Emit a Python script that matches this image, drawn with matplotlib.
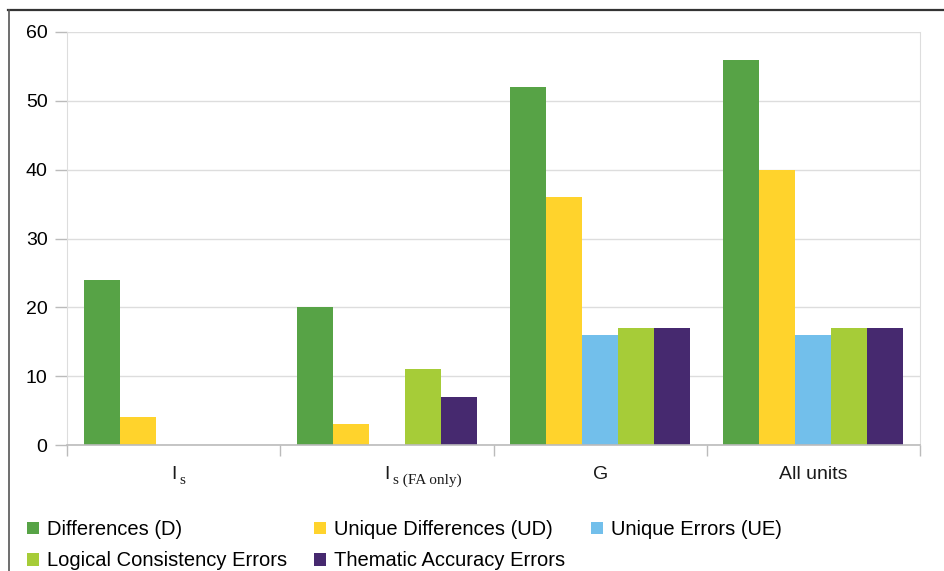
import matplotlib
matplotlib.use('Agg')
import matplotlib.pyplot as plt
from matplotlib.lines import Line2D
from matplotlib.patches import Patch
import numpy as np

plt.rcParams['font.family'] = ['Liberation Sans', 'DejaVu Sans']

categories = ['I', 'I', 'G', 'All units']
subscripts = ['s', 's (FA only)', '', '']
series = ['Differences (D)', 'Unique Differences (UD)', 'Unique Errors (UE)',
          'Logical Consistency Errors', 'Thematic Accuracy Errors']
differences = [24, 20, 52, 56]
unique_differences = [4, 3, 36, 40]
unique_errors = [0, 0, 16, 16]
logical_errors = [0, 11, 17, 17]
thematic_errors = [0, 7, 17, 17]
colors = ['#57a346', '#ffd32c', '#72bfeb', '#a6cc38', '#46296f']

values = [differences, unique_differences, unique_errors, logical_errors, thematic_errors]

fig = plt.figure(figsize=(9.45, 5.71), dpi=100)
ax = fig.add_axes([67 / 945, 1 - 445 / 571, (920 - 67) / 945, (445 - 32) / 571])

x = np.arange(len(categories))
width = 0.169
for i, (vals, color) in enumerate(zip(values, colors)):
    ax.bar(x + (i - 2) * width, vals, width, color=color, linewidth=0, zorder=3)

ax.set_xlim(-0.5, len(categories) - 0.5)
ax.set_ylim(0, 60)
ax.set_yticks(range(0, 61, 10))
ax.yaxis.grid(True, color='#dddddd', linewidth=1, zorder=0)

# category boundaries as major ticks; labels drawn by hand (some have a serif subscript)
ax.set_xticks(np.arange(-0.5, len(categories), 1.0))
ax.set_xticklabels([])
ax.tick_params(axis='x', which='major', length=8, color='#bbbbbb', width=1)
ax.tick_params(axis='y', length=9, color='#bbbbbb', width=1, labelsize=14, pad=5)

for xi, cat, sub in zip(x, categories, subscripts):
    ax.annotate(cat, xy=(xi, 0), xycoords=('data', 'axes fraction'),
                xytext=(0, -24.5), textcoords='offset points',
                ha='center', va='baseline', fontsize=14, color='#1a1a1a')
    if sub:
        ax.annotate(sub, xy=(xi, 0), xycoords=('data', 'axes fraction'),
                    xytext=(4.5, -28), textcoords='offset points',
                    ha='left', va='baseline', fontsize=11,
                    family='Liberation Serif', color='#1a1a1a')

ax.spines['top'].set_visible(False)
for side in ['left', 'right']:
    ax.spines[side].set_color('#dddddd')
ax.spines['bottom'].set_color('#bbbbbb')
ax.spines['bottom'].set_linewidth(1.2)
ax.spines['bottom'].set_zorder(4)

# legend is filled column by column, so reorder to read row by row
order = [0, 3, 1, 4, 2]
handles = [Patch(facecolor=colors[k], edgecolor='none') for k in order]
labels = [series[k] for k in order]
fig.legend(handles, labels, ncol=3, loc='upper left',
           bbox_to_anchor=(9 / 945, 1 - 502 / 571), frameon=False,
           fontsize=14.5, handlelength=0.6, handleheight=0.6, handletextpad=0.4,
           columnspacing=1.3, labelspacing=0.6)

# outer frame (top and left edges)
fig.add_artist(Line2D([8 / 945, 1], [1 - 9.5 / 571] * 2, transform=fig.transFigure,
                      color='#333333', linewidth=1.6))
fig.add_artist(Line2D([9 / 945] * 2, [0, 1 - 9.5 / 571], transform=fig.transFigure,
                      color='#555555', linewidth=1.2))

fig.savefig('out.png', dpi=100)
